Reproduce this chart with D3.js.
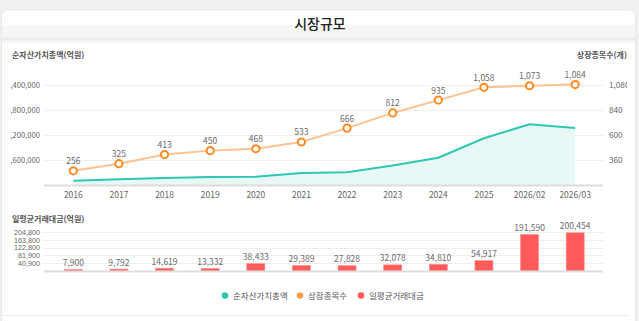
<!DOCTYPE html>
<html><head><meta charset="utf-8">
<script src="https://cdn.jsdelivr.net/npm/d3@7"></script>
<style>
html,body{margin:0;padding:0;background:#f1f1f1;}
svg{display:block;font-family:"Noto Sans CJK KR","Noto Sans",sans-serif;}
</style></head><body>
<svg id="c" width="639" height="321"></svg>
<script>
const categories = ["2016","2017","2018","2019","2020","2021","2022","2023","2024","2025","2026/02","2026/03"];
const netAssets = [275000,365000,448000,512000,531000,768000,813000,1248000,1747000,2989000,3885000,3648000];
const listedCount = [256,325,413,450,468,533,666,812,935,1058,1073,1084];
const dailyTurnover = [7900,9792,14619,13332,38433,29389,27828,32078,34810,54917,191590,200454];
const leftTicks = [1600000,3200000,4800000,6400000];
const rightTicks = [360,600,840,1080];
const bottomTicks = [40960,81920,122880,163840,204800];
const seriesNames = ["순자산가치총액","상장종목수","일평균거래대금"];
const colors = {teal:"#2ec7b2", tealFill:"#e8f8f6", orange:"#ff8a1f", orangeLine:"#ffc291", red:"#ff5b5b"};

const svg = d3.select("#c");
const defs = svg.append("defs");
const hg = defs.append("linearGradient").attr("id","hg").attr("x1",0).attr("y1",0).attr("x2",0).attr("y2",1);
hg.append("stop").attr("offset","0%").attr("stop-color","#ffffff");
hg.append("stop").attr("offset","50%").attr("stop-color","#ffffff");
hg.append("stop").attr("offset","55%").attr("stop-color","#f6f6f6");
hg.append("stop").attr("offset","100%").attr("stop-color","#f4f4f4");
const sg = defs.append("linearGradient").attr("id","sg").attr("x1",0).attr("y1",0).attr("x2",0).attr("y2",1);
sg.append("stop").attr("offset","0%").attr("stop-color","#000").attr("stop-opacity",0.10);
sg.append("stop").attr("offset","100%").attr("stop-color","#000").attr("stop-opacity",0);
defs.append("clipPath").attr("id","clipL").append("rect").attr("x",10.5).attr("y",0).attr("width",100).attr("height",321);
defs.append("clipPath").attr("id","clipR").append("rect").attr("x",560).attr("y",0).attr("width",67).attr("height",321);

// card
svg.append("rect").attr("x",1.5).attr("y",10).attr("width",634).attr("height",330).attr("rx",7).attr("fill","#fff").attr("stroke","#e6e6e6");
svg.append("path").attr("d","M2,38 L2,17 Q2,10.5 9,10.5 L628,10.5 Q635,10.5 635,17 L635,38 Z").attr("fill","url(#hg)");
svg.append("rect").attr("x",2).attr("y",38).attr("width",633).attr("height",6).attr("fill","url(#sg)");
svg.append("text").attr("x",320).attr("y",29).attr("text-anchor","middle").attr("font-size",14).attr("font-weight",500).attr("fill","#222").text("시장규모");
svg.append("line").attr("x1",0).attr("x2",628).attr("y1",315.5).attr("y2",315.5).attr("stroke","#ececec");

// scales
const x = d3.scaleBand().domain(categories).range([50.5,598]).padding(0);
const cx = d => x(d) + x.bandwidth()/2;
const yL = d3.scaleLinear().domain([0,6400000]).range([185,85]);
const yR = d3.scaleLinear().domain([120,1080]).range([185,85]);
const yB = d3.scaleLinear().domain([0,204800]).range([271,232]);
const gx0 = 44, gx1 = 603;
const fmt = d3.format(",");

// top chart titles
svg.append("text").attr("x",12).attr("y",58).attr("font-size",8).attr("font-weight",600).attr("fill","#555").text("순자산가치총액(억원)");
svg.append("text").attr("x",627).attr("y",58).attr("text-anchor","end").attr("font-size",8).attr("font-weight",600).attr("fill","#555").text("상장종목수(개)");

// grid top
svg.append("g").selectAll("line").data(leftTicks).join("line")
  .attr("x1",gx0).attr("x2",gx1).attr("y1",d=>Math.round(yL(d))+0.5).attr("y2",d=>Math.round(yL(d))+0.5)
  .attr("stroke","#eeeeee");
// left axis labels
const gLeftWrap = svg.append("g").attr("clip-path","url(#clipL)");
const gLeft = gLeftWrap.append("g").attr("transform","translate(40,0)");
gLeft.call(d3.axisLeft(yL).tickValues(leftTicks).tickFormat(fmt).tickSize(0).tickPadding(0));
gLeft.select(".domain").remove();
gLeft.selectAll("text").attr("font-size",7.6).attr("fill","#666").attr("font-family","'Noto Sans CJK KR',sans-serif");
// right axis labels
const gRightWrap = svg.append("g").attr("clip-path","url(#clipR)");
const gRight = gRightWrap.append("g").attr("transform","translate(609,0)");
gRight.call(d3.axisRight(yR).tickValues(rightTicks).tickFormat(fmt).tickSize(0).tickPadding(0));
gRight.select(".domain").remove();
gRight.selectAll("text").attr("font-size",8.2).attr("fill","#666").attr("font-family","'Noto Sans CJK KR',sans-serif");

// area + teal line
const area = d3.area().x((d,i)=>cx(categories[i])).y0(yL(0)).y1(d=>yL(d));
svg.append("path").datum(netAssets).attr("d",area).attr("fill",colors.tealFill);
const lineL = d3.line().x((d,i)=>cx(categories[i])).y(d=>yL(d));
svg.append("path").datum(netAssets).attr("d",lineL).attr("fill","none").attr("stroke",colors.teal).attr("stroke-width",2);

// baseline top
svg.append("line").attr("x1",gx0).attr("x2",gx1).attr("y1",185.5).attr("y2",185.5).attr("stroke","#dddddd").attr("stroke-width",2);

// x axis labels
const gx = svg.append("g").attr("transform","translate(0,190)");
gx.call(d3.axisBottom(x).tickSize(0).tickPadding(0));
gx.select(".domain").remove();
gx.selectAll("text").attr("font-size",8.5).attr("fill","#666").attr("dy","0.95em").attr("font-family","'Noto Sans CJK KR',sans-serif");

// orange line
const lineR = d3.line().x((d,i)=>cx(categories[i])).y(d=>yR(d));
svg.append("path").datum(listedCount).attr("d",lineR).attr("fill","none").attr("stroke",colors.orangeLine).attr("stroke-width",2);
svg.append("g").selectAll("circle").data(listedCount).join("circle")
  .attr("cx",(d,i)=>cx(categories[i])).attr("cy",d=>yR(d)).attr("r",3.6)
  .attr("fill","#fff").attr("stroke",colors.orange).attr("stroke-width",2);
svg.append("g").selectAll("text").data(listedCount).join("text")
  .attr("x",(d,i)=>cx(categories[i])).attr("y",d=>yR(d)-6.5).attr("text-anchor","middle")
  .attr("font-size",8.5).attr("fill","#6a6a6a").text(d=>fmt(d));

// bottom chart
svg.append("text").attr("x",12).attr("y",222).attr("font-size",8).attr("font-weight",600).attr("fill","#555").text("일평균거래대금(억원)");
svg.append("g").selectAll("line").data(bottomTicks).join("line")
  .attr("x1",gx0).attr("x2",gx1).attr("y1",d=>Math.round(yB(d))+0.5).attr("y2",d=>Math.round(yB(d))+0.5)
  .attr("stroke","#eeeeee");
const gB = svg.append("g").attr("transform","translate(40,0)");
gB.call(d3.axisLeft(yB).tickValues(bottomTicks).tickFormat(d=>fmt(Math.floor(d/100)*100)).tickSize(0).tickPadding(0));
gB.select(".domain").remove();
gB.selectAll("text").attr("font-size",7.2).attr("fill","#666").attr("font-family","'Liberation Sans',Arial,sans-serif");
const bw = 18;
svg.append("g").selectAll("rect").data(dailyTurnover).join("rect")
  .attr("x",(d,i)=>cx(categories[i])-bw/2).attr("width",bw)
  .attr("y",d=>yB(d)).attr("height",d=>yB(0)-yB(d))
  .attr("fill",colors.red).attr("stroke","#ff8a8a").attr("stroke-width",0.6);
svg.append("line").attr("x1",gx0).attr("x2",gx1).attr("y1",271.5).attr("y2",271.5).attr("stroke","#dddddd").attr("stroke-width",2);
svg.append("g").selectAll("text").data(dailyTurnover).join("text")
  .attr("x",(d,i)=>cx(categories[i])).attr("y",d=>yB(d)-3.5).attr("text-anchor","middle")
  .attr("font-size",8.5).attr("fill","#6a6a6a").text(d=>fmt(d));

// legend
const legendItems = [
  {name:seriesNames[0], color:colors.teal, cx:225},
  {name:seriesNames[1], color:"#ff9d4d", cx:300},
  {name:seriesNames[2], color:colors.red, cx:361}
];
const lg = svg.append("g").selectAll("g").data(legendItems).join("g");
lg.append("circle").attr("cx",d=>d.cx).attr("cy",295.5).attr("r",3.3).attr("fill",d=>d.color);
lg.append("text").attr("x",d=>d.cx+8).attr("y",298.5).attr("font-size",8.5).attr("fill","#555").text(d=>d.name);
</script>
</body></html>
